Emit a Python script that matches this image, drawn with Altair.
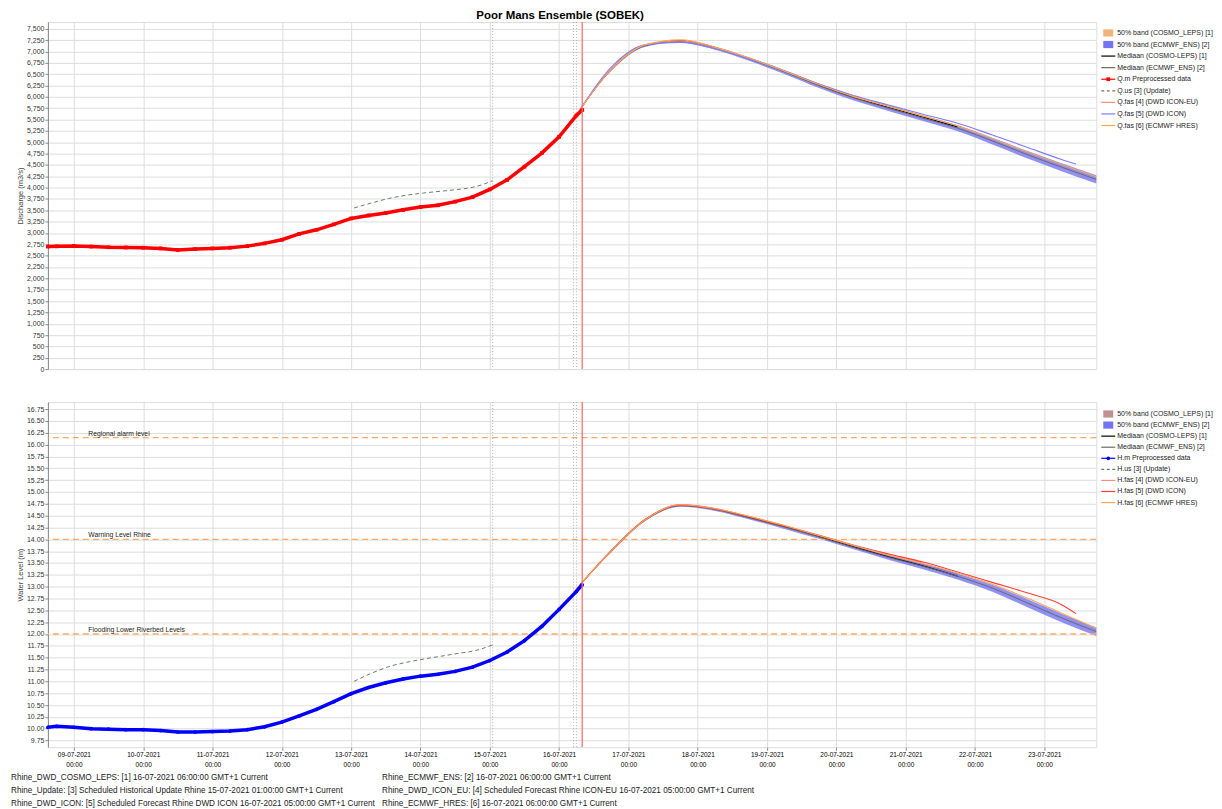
import altair as alt
import pandas as pd

FONT = "Liberation Sans"

def iso(d, h):
    return f"2021-07-{d:02d}T{h:02d}:00:00Z"

# ---------------- time categories ----------------
obs_times = [iso(8, 15), iso(8, 18)] + [iso(d, h) for d in range(9, 16) for h in (0, 6, 12, 18)] + [iso(16, 0), iso(16, 6), iso(16, 8)]
fc_times = [iso(d, h) for d in range(16, 24) for h in (6, 18)]
cosmo_times = fc_times[:12]
icon_eu_times = fc_times[:11]
icon_times = fc_times[:15] + [iso(23, 11)]
upd_times = [iso(13, 1), iso(13, 7), iso(13, 13), iso(13, 19), iso(14, 1), iso(14, 7), iso(14, 13), iso(14, 19), iso(15, 1)]
tick_days = list(range(9, 24))
ref_line_times = [iso(15, 1), iso(16, 5), iso(16, 6)]
now_time = [iso(16, 8)]

# ---------------- discharge (m3/s) ----------------
q_obs = [2700, 2705, 2715, 2700, 2685, 2680, 2675, 2660, 2625, 2645, 2660, 2675, 2710, 2770,
         2850, 2980, 3070, 3190, 3320, 3385, 3440, 3510, 3570, 3610, 3690, 3790,
         3960, 4170, 4460, 4760, 5120, 5590, 5710]
q_upd = [3550, 3660, 3760, 3830, 3880, 3920, 3960, 4020, 4150]
q_cosmo_med = [5600, 6600, 7140, 7235, 7085, 6840, 6560, 6260, 5990, 5770, 5555, 5335]
q_cosmo_lo = [5595, 6585, 7125, 7220, 7070, 6825, 6545, 6245, 5975, 5755, 5540, 5320]
q_cosmo_hi = [5610, 6615, 7155, 7250, 7105, 6860, 6585, 6290, 6020, 5800, 5590, 5375]
q_ecmwf_med = [5600, 6590, 7130, 7225, 7075, 6830, 6550, 6245, 5975, 5750, 5530, 5310, 5030, 4730, 4450, 4180]
q_ecmwf_lo = [5590, 6570, 7105, 7195, 7040, 6790, 6505, 6195, 5920, 5690, 5465, 5240, 4950, 4645, 4360, 4090]
q_ecmwf_hi = [5610, 6610, 7150, 7250, 7105, 6865, 6590, 6290, 6025, 5805, 5590, 5375, 5100, 4810, 4535, 4270]
q_icon_eu = [5600, 6620, 7150, 7230, 7080, 6845, 6570, 6275, 6010, 5795, 5580]
q_icon = [5600, 6650, 7150, 7200, 7060, 6835, 6565, 6280, 6030, 5820, 5615, 5420, 5160, 4890, 4620, 4520]
q_hres = [5600, 6600, 7150, 7255, 7095, 6850, 6570, 6270, 6005, 5790, 5575, 5360, 5080, 4790, 4510, 4240]
q_ticks = list(range(0, 7501, 250))

# ---------------- water level (m) ----------------
h_obs = [10.03, 10.05, 10.03, 10.00, 9.99, 9.98, 9.98, 9.96, 9.93, 9.93, 9.94, 9.95, 9.98, 10.04,
         10.14, 10.27, 10.41, 10.57, 10.74, 10.87, 10.97, 11.05, 11.11, 11.15, 11.21, 11.30,
         11.44, 11.62, 11.86, 12.16, 12.52, 12.90, 13.04]
h_upd = [11.00, 11.17, 11.31, 11.40, 11.47, 11.53, 11.59, 11.65, 11.77]
h_cosmo_med = [12.95, 13.75, 14.42, 14.72, 14.64, 14.46, 14.27, 14.06, 13.84, 13.63, 13.44, 13.22]
h_cosmo_lo = [12.945, 13.74, 14.41, 14.71, 14.63, 14.45, 14.26, 14.05, 13.83, 13.62, 13.43, 13.21]
h_cosmo_hi = [12.955, 13.77, 14.44, 14.74, 14.66, 14.48, 14.29, 14.08, 13.87, 13.67, 13.49, 13.28]
h_ecmwf_med = [12.95, 13.74, 14.41, 14.71, 14.63, 14.45, 14.26, 14.05, 13.83, 13.62, 13.43, 13.22, 12.97, 12.66, 12.34, 12.05]
h_ecmwf_lo = [12.94, 13.72, 14.39, 14.69, 14.60, 14.42, 14.22, 14.01, 13.79, 13.57, 13.37, 13.15, 12.89, 12.57, 12.25, 11.96]
h_ecmwf_hi = [12.96, 13.76, 14.43, 14.73, 14.65, 14.48, 14.29, 14.08, 13.87, 13.66, 13.48, 13.28, 13.04, 12.74, 12.43, 12.14]
h_icon_eu = [12.95, 13.75, 14.43, 14.73, 14.65, 14.48, 14.29, 14.09, 13.88, 13.69, 13.50]
h_icon = [12.95, 13.76, 14.43, 14.72, 14.64, 14.47, 14.28, 14.08, 13.87, 13.69, 13.52, 13.31, 13.09, 12.87, 12.62, 12.43]
h_hres = [12.95, 13.75, 14.42, 14.73, 14.65, 14.48, 14.29, 14.08, 13.87, 13.67, 13.49, 13.29, 13.05, 12.76, 12.44, 12.12]
h_ticks = [9.75 + 0.25 * i for i in range(29)]
thr_names = ["Regional alarm level", "Warning Level Rhine", "Flooding Lower Riverbed Levels"]
thr_values = [16.15, 14.00, 12.00]
thr_label_time = iso(9, 5)

# ---------------- legends & footer ----------------
top_leg_labels = ["50% band (COSMO_LEPS) [1]", "50% band (ECMWF_ENS) [2]", "Mediaan (COSMO-LEPS) [1]",
                  "Mediaan (ECMWF_ENS) [2]", "Q.m Preprocessed data", "Q.us [3] (Update)",
                  "Q.fas [4] (DWD ICON-EU)", "Q.fas [5] (DWD ICON)", "Q.fas [6] (ECMWF HRES)"]
bot_leg_labels = ["50% band (COSMO_LEPS) [1]", "50% band (ECMWF_ENS) [2]", "Mediaan (COSMO-LEPS) [1]",
                  "Mediaan (ECMWF_ENS) [2]", "H.m Preprocessed data", "H.us [3] (Update)",
                  "H.fas [4] (DWD ICON-EU)", "H.fas [5] (DWD ICON)", "H.fas [6] (ECMWF HRES)"]
leg_kinds = ["band", "band", "line", "line", "mark", "dash", "line", "line", "line"]

footer_left = ["Rhine_DWD_COSMO_LEPS: [1] 16-07-2021 06:00:00 GMT+1 Current",
               "Rhine_Update: [3] Scheduled Historical Update Rhine 15-07-2021 01:00:00 GMT+1 Current",
               "Rhine_DWD_ICON: [5] Scheduled Forecast Rhine DWD ICON 16-07-2021 05:00:00 GMT+1 Current"]
footer_right = ["Rhine_ECMWF_ENS: [2] 16-07-2021 06:00:00 GMT+1 Current",
                "Rhine_DWD_ICON_EU: [4] Scheduled Forecast Rhine ICON-EU 16-07-2021 05:00:00 GMT+1 Current",
                "Rhine_ECMWF_HRES: [6] 16-07-2021 06:00:00 GMT+1 Current"]

# ---------------- colours ----------------
C_COSMO_BAND_Q = "#f3b27c"
C_COSMO_BAND_H = "#c48e8e"
C_ECMWF_BAND = "#7474f2"
C_MED_COSMO = "#000000"
C_MED_ECMWF = "#6a6a6a"
C_UPD = "#6b7b6b"
C_ICON_EU = "#ff8a80"
C_ICON_Q = "#7c7cff"
C_ICON_H = "#ff3a3a"
C_HRES = "#ffa450"
C_OBS_Q = "#ff0000"
C_OBS_H = "#0000ff"
C_THR = "#ffa860"
C_NOW = "#ff7070"

PLOT_W = 1051
TOP_H = 348
BOT_H = 346


def dt(d, h):
    return alt.DateTime(year=2021, month=7, date=d, hours=h, utc=True)


X_SCALE = alt.Scale(type="utc", domain=[dt(8, 15), dt(23, 18)], nice=False)
X_TICKS = [dt(d, 0) for d in tick_days]
AX_TOP = alt.Axis(values=X_TICKS, labels=False, ticks=False, domain=False, grid=True, title=None)
AX_BOT = alt.Axis(values=X_TICKS, grid=True, title=None, domain=False, tickSize=3, labelPadding=1.5,
                  labelFontSize=6.5, labelLineHeight=10,
                  labelExpr="[utcFormat(datum.value, '%d-%m-%Y'), utcFormat(datum.value, '%H:%M')]")


def X(ax, field="t"):
    return alt.X(f"{field}:T", scale=X_SCALE, axis=ax)


def line_layer(times, vals, ax, Y, color, width=1.0, dash=None, opacity=1.0):
    df = pd.DataFrame({"t": times, "v": vals})
    kw = dict(color=color, strokeWidth=width, opacity=opacity, interpolate="monotone")
    if dash:
        kw["strokeDash"] = dash
    return alt.Chart(df).mark_line(**kw).encode(x=X(ax), y=Y("v"))


def band_layer(times, lo, hi, ax, Y, color, opacity):
    df = pd.DataFrame({"t": times, "lo": lo, "hi": hi})
    return alt.Chart(df).mark_area(color=color, opacity=opacity, interpolate="monotone").encode(
        x=X(ax), y=Y("lo"), y2="hi")


def vlines(ax, Y):
    df_ref = pd.DataFrame({"t": ref_line_times})
    df_now = pd.DataFrame({"t": now_time})
    a = alt.Chart(df_ref).mark_rule(color="#b0b0b0", strokeDash=[1, 2], strokeWidth=1).encode(x=X(ax))
    b = alt.Chart(df_now).mark_rule(color=C_NOW, strokeWidth=1.3).encode(x=X(ax))
    return a, b


def obs_layers(vals, ax, Y, color, shape):
    df = pd.DataFrame({"t": obs_times, "v": vals})
    ln = alt.Chart(df).mark_line(color=color, strokeWidth=3.5, interpolate="linear").encode(x=X(ax), y=Y("v"))
    pt = alt.Chart(df).mark_point(shape=shape, filled=True, color=color, size=14, opacity=1).encode(x=X(ax), y=Y("v"))
    return ln, pt


def yaxis(values, fmt, title):
    return alt.Axis(values=values, format=fmt, title=title, grid=True, tickSize=3, labelPadding=1,
                    minExtent=20, maxExtent=20, titlePadding=3, titleFont=FONT, titleFontSize=7.5,
                    titleFontWeight="normal", titleColor="#444444", labelFont=FONT, labelFontSize=7,
                    labelColor="#333333")


# ---------------- top panel ----------------
def YQ(field):
    return alt.Y(f"{field}:Q", scale=alt.Scale(domain=[0, 7650], nice=False, zero=False),
                 axis=yaxis(q_ticks, ",.0f", "Discharge (m3/s)"))


vq_ref, vq_now = vlines(AX_TOP, YQ)
q_obs_ln, q_obs_pt = obs_layers(q_obs, AX_TOP, YQ, C_OBS_Q, "square")
top_plot = alt.layer(
    band_layer(cosmo_times, q_cosmo_lo, q_cosmo_hi, AX_TOP, YQ, C_COSMO_BAND_Q, 0.9),
    band_layer(fc_times, q_ecmwf_lo, q_ecmwf_hi, AX_TOP, YQ, C_ECMWF_BAND, 0.8),
    vq_ref,
    line_layer(cosmo_times, q_cosmo_med, AX_TOP, YQ, C_MED_COSMO, 1.0),
    line_layer(fc_times, q_ecmwf_med, AX_TOP, YQ, C_MED_ECMWF, 1.0),
    line_layer(icon_eu_times, q_icon_eu, AX_TOP, YQ, C_ICON_EU, 1.0),
    line_layer(icon_times, q_icon, AX_TOP, YQ, C_ICON_Q, 1.1),
    line_layer(fc_times, q_hres, AX_TOP, YQ, C_HRES, 1.1),
    line_layer(upd_times, q_upd, AX_TOP, YQ, C_UPD, 1.0, dash=[4, 3]),
    q_obs_ln, q_obs_pt,
    vq_now,
).properties(
    width=PLOT_W, height=TOP_H,
    title=alt.TitleParams("Poor Mans Ensemble (SOBEK)", font=FONT, fontSize=11.5, fontWeight="bold",
                          anchor="middle", dx=-12, offset=0, color="#000000"),
)


# ---------------- bottom panel ----------------
def YH(field):
    return alt.Y(f"{field}:Q", scale=alt.Scale(domain=[9.61, 16.90], nice=False, zero=False),
                 axis=yaxis(h_ticks, ".2f", "Water Level (m)"))


vh_ref, vh_now = vlines(AX_BOT, YH)
h_obs_ln, h_obs_pt = obs_layers(h_obs, AX_BOT, YH, C_OBS_H, "circle")
thr_df = pd.DataFrame({"name": thr_names, "v": thr_values, "t": [thr_label_time] * len(thr_names)})
thr_rules = alt.Chart(thr_df).mark_rule(color=C_THR, strokeDash=[6, 4], strokeWidth=1.3).encode(y=YH("v"))
thr_text = alt.Chart(thr_df).mark_text(align="left", baseline="bottom", dy=-1, font=FONT, fontSize=6.8,
                                       color="#222222").encode(x=X(AX_BOT), y=YH("v"), text="name:N")

bot_plot = alt.layer(
    band_layer(cosmo_times, h_cosmo_lo, h_cosmo_hi, AX_BOT, YH, C_COSMO_BAND_H, 0.85),
    band_layer(fc_times, h_ecmwf_lo, h_ecmwf_hi, AX_BOT, YH, C_ECMWF_BAND, 0.8),
    vh_ref,
    thr_rules, thr_text,
    line_layer(cosmo_times, h_cosmo_med, AX_BOT, YH, C_MED_COSMO, 1.0),
    line_layer(fc_times, h_ecmwf_med, AX_BOT, YH, C_MED_ECMWF, 1.0),
    line_layer(icon_eu_times, h_icon_eu, AX_BOT, YH, C_ICON_EU, 1.0),
    line_layer(icon_times, h_icon, AX_BOT, YH, C_ICON_H, 1.1),
    line_layer(fc_times, h_hres, AX_BOT, YH, C_HRES, 1.1),
    line_layer(upd_times, h_upd, AX_BOT, YH, C_UPD, 1.0, dash=[4, 3]),
    h_obs_ln, h_obs_pt,
    vh_now,
).properties(width=PLOT_W, height=BOT_H)


# ---------------- legends ----------------
RECT = "M-1,-0.72L1,-0.72L1,0.72L-1,0.72Z"
HLINE = "M-1,0L1,0"


def legend(labels, colors, height, step, first, marker_shape, marker_color):
    df = pd.DataFrame({"i": list(range(len(labels))), "label": labels, "kind": leg_kinds, "c": colors})
    d0 = -first / step
    ysc = alt.Scale(domain=[d0, d0 + height / step], reverse=True, nice=False, zero=False)
    Yl = alt.Y("i:Q", scale=ysc, axis=None)
    C = alt.Color("c:N", scale=None)
    base = alt.Chart(df)
    bands = base.transform_filter("datum.kind == 'band'").mark_point(
        shape=RECT, filled=True, size=100, opacity=1).encode(x=alt.value(8), y=Yl, color=C)
    lines = base.transform_filter("datum.kind == 'line' || datum.kind == 'mark'").mark_point(
        shape=HLINE, filled=False, size=196, strokeWidth=1.2, opacity=1).encode(x=alt.value(8), y=Yl, color=C)
    dashes = base.transform_filter("datum.kind == 'dash'").mark_point(
        shape=HLINE, filled=False, size=196, strokeWidth=1.2, strokeDash=[3, 2.5], opacity=1).encode(
        x=alt.value(8), y=Yl, color=C)
    marks = base.transform_filter("datum.kind == 'mark'").mark_point(
        shape=marker_shape, filled=True, size=14, color=marker_color, opacity=1).encode(x=alt.value(8), y=Yl)
    text = base.mark_text(align="left", baseline="middle", font=FONT, fontSize=7, color="#222222").encode(
        x=alt.value(17), y=Yl, text="label:N")
    return alt.layer(bands, lines, dashes, marks, text).properties(
        width=108, height=height, view=alt.ViewBackground(stroke="transparent"))


top_leg_colors = [C_COSMO_BAND_Q, C_ECMWF_BAND, C_MED_COSMO, C_MED_ECMWF, C_OBS_Q, C_UPD, C_ICON_EU, C_ICON_Q, C_HRES]
bot_leg_colors = [C_COSMO_BAND_H, C_ECMWF_BAND, C_MED_COSMO, C_MED_ECMWF, C_OBS_H, C_UPD, C_ICON_EU, C_ICON_H, C_HRES]
top_leg = legend(top_leg_labels, top_leg_colors, TOP_H, 11.6, 11.0, "square", C_OBS_Q)
bot_leg = legend(bot_leg_labels, bot_leg_colors, BOT_H, 11.1, 12.0, "circle", C_OBS_H)

# ---------------- footer ----------------
foot_df = pd.DataFrame({
    "row": [0, 1, 2, 0, 1, 2],
    "col": [0, 0, 0, 1, 1, 1],
    "txt": footer_left + footer_right,
})
footer = alt.Chart(foot_df).mark_text(align="left", baseline="middle", font=FONT, fontSize=8.2,
                                      color="#222222").encode(
    x=alt.X("col:Q", scale=alt.Scale(domain=[0, 1], range=[-37, 335]), axis=None),
    y=alt.Y("row:Q", scale=alt.Scale(domain=[0, 2], range=[8, 34]), axis=None),
    text="txt:N",
).properties(width=PLOT_W, height=38, view=alt.ViewBackground(stroke="transparent"))

row1 = alt.hconcat(top_plot, top_leg, spacing=4, bounds="flush")
row2 = alt.hconcat(bot_plot, bot_leg, spacing=4, bounds="flush")
lower = alt.vconcat(row2, footer, spacing=0)

chart = alt.vconcat(row1, lower, spacing=27).properties(
    padding={"left": 2, "top": 0, "right": 0, "bottom": 0}
).configure_view(
    stroke="#a6a6a6", strokeWidth=1
).configure_axis(
    labelFont=FONT, titleFont=FONT, labelFontSize=7, titleFontSize=7.5, titleFontWeight="normal",
    labelColor="#333333", titleColor="#444444", tickColor="#999999", domainColor="#999999",
    gridColor="#cccccc", gridDash=[1, 2], gridWidth=1,
).configure(background="#ffffff")

chart.save("out.html", embed_options={"renderer": "svg", "actions": False})
